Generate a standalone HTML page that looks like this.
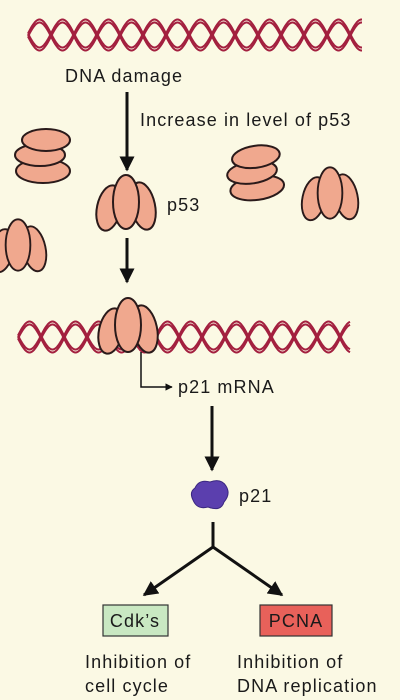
<!DOCTYPE html>
<html><head><meta charset="utf-8"><style>
html,body{margin:0;padding:0;background:#fbf9e4;}
svg{display:block;}
text{font-family:"Liberation Sans",sans-serif;fill:#1a1a1a;font-size:18px;letter-spacing:1.1px;}
</style></head><body>
<svg width="400" height="700" viewBox="0 0 400 700">
<defs>
<marker id="ah" viewBox="0 0 10 10" refX="9" refY="5" markerWidth="5" markerHeight="5" orient="auto"><path d="M0,0 L10,5 L0,10 Z" fill="#111"/></marker>
<g id="prot">
 <ellipse cx="-17" cy="6" rx="12" ry="23" fill="#f0a88e" stroke="#2a1a1a" stroke-width="2" transform="rotate(12 -17 6)"/>
 <ellipse cx="17" cy="4" rx="12" ry="24" fill="#f0a88e" stroke="#2a1a1a" stroke-width="2" transform="rotate(-12 17 4)"/>
 <ellipse cx="0" cy="0" rx="13" ry="27" fill="#f0a88e" stroke="#2a1a1a" stroke-width="2"/>
</g>
<g id="protH">
 <ellipse cx="0" cy="16" rx="27" ry="12" fill="#f0a88e" stroke="#2a1a1a" stroke-width="2"/>
 <ellipse cx="-3" cy="0" rx="25" ry="11" fill="#f0a88e" stroke="#2a1a1a" stroke-width="2"/>
 <ellipse cx="3" cy="-15" rx="24" ry="11" fill="#f0a88e" stroke="#2a1a1a" stroke-width="2"/>
</g>
</defs>
<g id="dna1"></g>
<text x="65" y="82">DNA damage</text>
<line x1="127" y1="92" x2="127" y2="170" stroke="#111" stroke-width="3" marker-end="url(#ah)"/>
<text x="140" y="126">Increase in level of p53</text>
<use href="#protH" transform="translate(43,155)"/>
<use href="#prot" transform="translate(126,202)"/>
<text x="167" y="211">p53</text>
<use href="#protH" transform="translate(255,172) rotate(-8)"/>
<use href="#prot" transform="translate(330,193) scale(0.95)"/>
<use href="#prot" transform="translate(18,245) scale(0.95)"/>
<line x1="127" y1="238" x2="127" y2="282" stroke="#111" stroke-width="3" marker-end="url(#ah)"/>
<g id="dna2"></g>
<use href="#prot" transform="translate(128,325)"/>
<path d="M141,352 L141,387 L172,387" fill="none" stroke="#111" stroke-width="1.5" marker-end="url(#ah)"/>
<text x="178" y="393">p21 mRNA</text>
<line x1="212" y1="406" x2="212" y2="470" stroke="#111" stroke-width="3" marker-end="url(#ah)"/>
<path d="M195,488 Q199,479 210,482 Q221,478 226,486 Q231,494 224,502 Q221,512 208,507 Q197,510 193,500 Q189,492 195,488 Z" fill="#5b3fae" stroke="#3a2780" stroke-width="1"/>
<text x="239" y="502">p21</text>
<path d="M213,522 L213,547" stroke="#111" stroke-width="3" fill="none"/>
<line x1="213" y1="547" x2="144" y2="595" stroke="#111" stroke-width="3" marker-end="url(#ah)"/>
<line x1="213" y1="547" x2="282" y2="595" stroke="#111" stroke-width="3" marker-end="url(#ah)"/>
<rect x="103" y="605" width="65" height="31" fill="#c9e8c2" stroke="#333" stroke-width="1.2"/>
<text x="135" y="627" text-anchor="middle">Cdk’s</text>
<rect x="260" y="605" width="72" height="31" fill="#e8615a" stroke="#333" stroke-width="1.2"/>
<text x="296" y="627" text-anchor="middle">PCNA</text>
<text x="85" y="668">Inhibition of</text>
<text x="85" y="692">cell cycle</text>
<text x="237" y="668">Inhibition of</text>
<text x="237" y="692">DNA replication</text>
</svg>
<script>
function helix(id,x0,x1,yc,amp,per){
  var g=document.getElementById(id);
  [0,Math.PI].forEach(function(ph){
    [-1.5,1.5].forEach(function(off){
      var d='';
      for(var x=x0;x<=x1;x+=1){
        var y=yc+off+amp*Math.sin((x-x0)/per*2*Math.PI+ph);
        d+=(x===x0?'M':'L')+x+','+y.toFixed(1);
      }
      var p=document.createElementNS('http://www.w3.org/2000/svg','path');
      p.setAttribute('d',d);p.setAttribute('fill','none');
      p.setAttribute('stroke','#a3203f');p.setAttribute('stroke-width','2');
      
      
      g.appendChild(p);
    });
  });
}
helix('dna1',28,362,35,14,46);
helix('dna2',18,350,337,14,46);
</script>
</body></html>
